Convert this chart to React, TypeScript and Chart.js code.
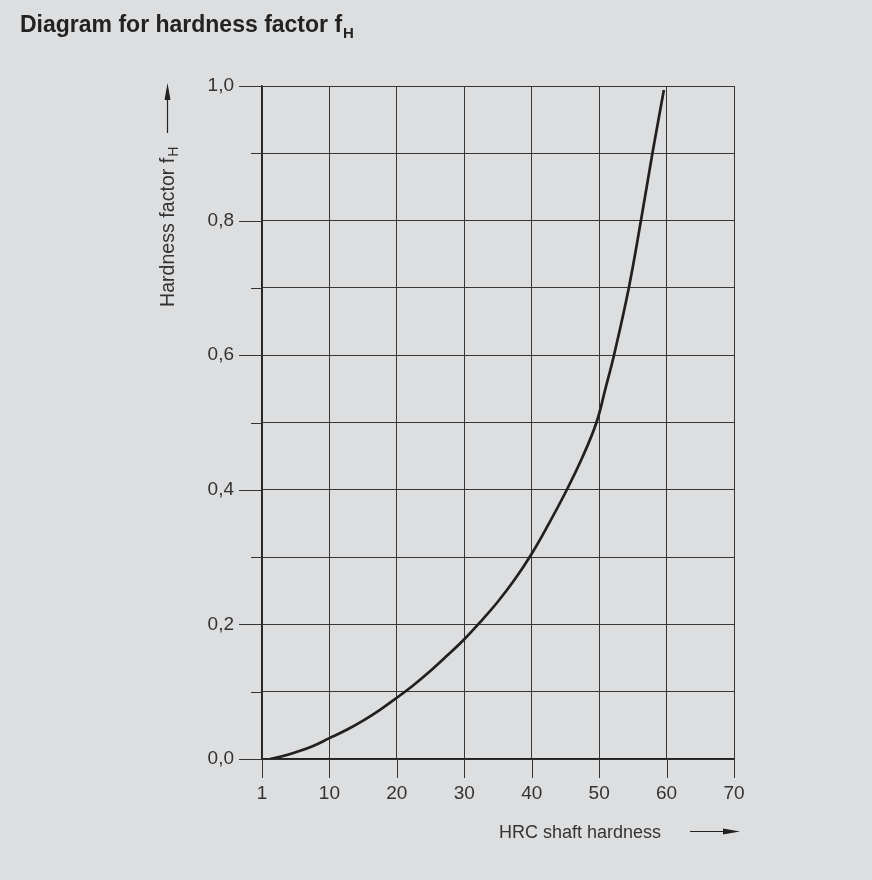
import React, { useEffect, useRef } from "react";
import { Chart, registerables } from "chart.js";

Chart.register(...registerables);

// Data (x in axis units, first tick labelled "1")
const hrcValues = [1.2, 3, 5, 7.5, 10, 12.5, 15, 17.5, 20, 22.5, 25, 27.5, 30, 32.5, 35, 37.5, 40, 42.5, 45, 47.5, 49.6, 51, 52.2, 54.4, 56.2, 57.9, 59.6];
const hardnessFactor = [0, 0.004, 0.01, 0.019, 0.031, 0.043, 0.057, 0.073, 0.091, 0.11, 0.131, 0.154, 0.178, 0.205, 0.234, 0.267, 0.305, 0.349, 0.396, 0.448, 0.5, 0.553, 0.6, 0.7, 0.8, 0.9, 0.994];
const xTickValues = [0, 10, 20, 30, 40, 50, 60, 70];
const xTickLabels = ["1", "10", "20", "30", "40", "50", "60", "70"];
const yMajorTicks = [0, 0.2, 0.4, 0.6, 0.8, 1.0];
const yMinorTicks = [0.1, 0.3, 0.5, 0.7, 0.9];

const titleText = "Diagram for hardness factor f";
const titleSub = "H";
const yTitleText = "Hardness factor f";
const yTitleSub = "H";
const xTitleText = "HRC shaft hardness";

const FONT = "'Liberation Sans', Arial, Helvetica, sans-serif";
const BG = "#dddee0";

const decorPlugin = {
  id: "decor",
  beforeDraw(chart: any) {
    const ctx = chart.ctx;
    ctx.save();
    ctx.fillStyle = BG;
    ctx.fillRect(0, 0, chart.width, chart.height);
    ctx.restore();
  },
  afterDraw(chart: any) {
    const ctx = chart.ctx;
    const xs = chart.scales.x;
    const ys = chart.scales.y;
    const area = chart.chartArea;
    ctx.save();
    ctx.strokeStyle = "#333";
    ctx.lineWidth = 1;
    // y ticks
    yMajorTicks.forEach((v) => {
      const y = Math.round(ys.getPixelForValue(v)) + 0.5;
      ctx.beginPath();
      ctx.moveTo(area.left - 23, y);
      ctx.lineTo(area.left, y);
      ctx.stroke();
    });
    yMinorTicks.forEach((v) => {
      const y = Math.round(ys.getPixelForValue(v)) + 0.5;
      ctx.beginPath();
      ctx.moveTo(area.left - 11, y);
      ctx.lineTo(area.left, y);
      ctx.stroke();
    });
    // x ticks
    xTickValues.forEach((v) => {
      const x = Math.round(xs.getPixelForValue(v)) + 0.5;
      ctx.beginPath();
      ctx.moveTo(x, area.bottom);
      ctx.lineTo(x, area.bottom + 19);
      ctx.stroke();
    });

    ctx.fillStyle = "#222";
    // Title
    ctx.font = `bold 23px ${FONT}`;
    ctx.textBaseline = "alphabetic";
    ctx.textAlign = "left";
    ctx.fillText(titleText, 20, 32);
    const tw = ctx.measureText(titleText).width;
    ctx.font = `bold 15px ${FONT}`;
    ctx.fillText(titleSub, 20 + tw + 1, 37.5);

    // Y title (rotated)
    ctx.fillStyle = "#333";
    ctx.save();
    ctx.translate(174, 307);
    ctx.rotate(-Math.PI / 2);
    ctx.font = `19.6px ${FONT}`;
    ctx.fillText(yTitleText, 0, 0);
    const yw = ctx.measureText(yTitleText).width;
    ctx.font = `14px ${FONT}`;
    ctx.fillText(yTitleSub, yw + 1, 4);
    ctx.restore();

    // Y arrow
    ctx.strokeStyle = "#222";
    ctx.lineWidth = 1.2;
    ctx.beginPath();
    ctx.moveTo(167.5, 133);
    ctx.lineTo(167.5, 95);
    ctx.stroke();
    ctx.fillStyle = "#222";
    ctx.beginPath();
    ctx.moveTo(167.5, 83);
    ctx.lineTo(164.5, 100);
    ctx.lineTo(170.5, 100);
    ctx.closePath();
    ctx.fill();

    // X title
    ctx.fillStyle = "#333";
    ctx.font = `18px ${FONT}`;
    ctx.fillText(xTitleText, 499, 838);

    // X arrow
    ctx.beginPath();
    ctx.moveTo(690, 831.5);
    ctx.lineTo(728, 831.5);
    ctx.stroke();
    ctx.fillStyle = "#222";
    ctx.beginPath();
    ctx.moveTo(740, 831.5);
    ctx.lineTo(723, 828.5);
    ctx.lineTo(723, 834.5);
    ctx.closePath();
    ctx.fill();
    ctx.restore();
  },
};

export default function App() {
  const ref = useRef<HTMLCanvasElement | null>(null);

  useEffect(() => {
    if (!ref.current) return;
    const chart = new Chart(ref.current, {
      type: "line",
      data: {
        datasets: [
          {
            data: hrcValues.map((x, i) => ({ x, y: hardnessFactor[i] })),
            borderColor: "#231f20",
            borderWidth: 2.7,
            pointRadius: 0,
            tension: 0.4,
            fill: false,
          },
        ],
      },
      options: {
        animation: false,
        responsive: false,
        maintainAspectRatio: false,
        layout: { padding: { left: 0, top: 86, right: 138, bottom: 0 } },
        plugins: {
          legend: { display: false },
          tooltip: { enabled: false },
          title: { display: false },
        },
        scales: {
          x: {
            type: "linear",
            min: 0,
            max: 70,
            afterFit: (s: any) => {
              s.height = 121;
            },
            afterBuildTicks: (s: any) => {
              s.ticks = xTickValues.map((v) => ({ value: v }));
            },
            ticks: {
              padding: 23,
              color: "#333",
              font: { family: FONT, size: 19 },
              maxRotation: 0,
              autoSkip: false,
              callback: (v: any) => {
                const i = xTickValues.indexOf(Number(v));
                return i >= 0 ? xTickLabels[i] : "";
              },
            },
            grid: { color: "#363636", lineWidth: 1, drawTicks: false },
            border: { color: "#222", width: 1.5 },
          },
          y: {
            type: "linear",
            min: 0,
            max: 1,
            afterFit: (s: any) => {
              s.width = 262;
            },
            ticks: {
              stepSize: 0.1,
              padding: 28,
              color: "#333",
              font: { family: FONT, size: 19 },
              autoSkip: false,
              callback: (v: any) => {
                const n = Math.round(Number(v) * 10);
                return n % 2 === 0 ? (n / 10).toFixed(1).replace(".", ",") : "";
              },
            },
            grid: { color: "#363636", lineWidth: 1, drawTicks: false },
            border: { color: "#222", width: 1.5 },
          },
        },
      },
      plugins: [decorPlugin],
    });
    return () => chart.destroy();
  }, []);

  return (
    <div style={{ position: "absolute", left: 0, top: 0, width: 872, height: 880, background: BG }}>
      <canvas ref={ref} width={872} height={880} style={{ display: "block", width: 872, height: 880 }} />
    </div>
  );
}
